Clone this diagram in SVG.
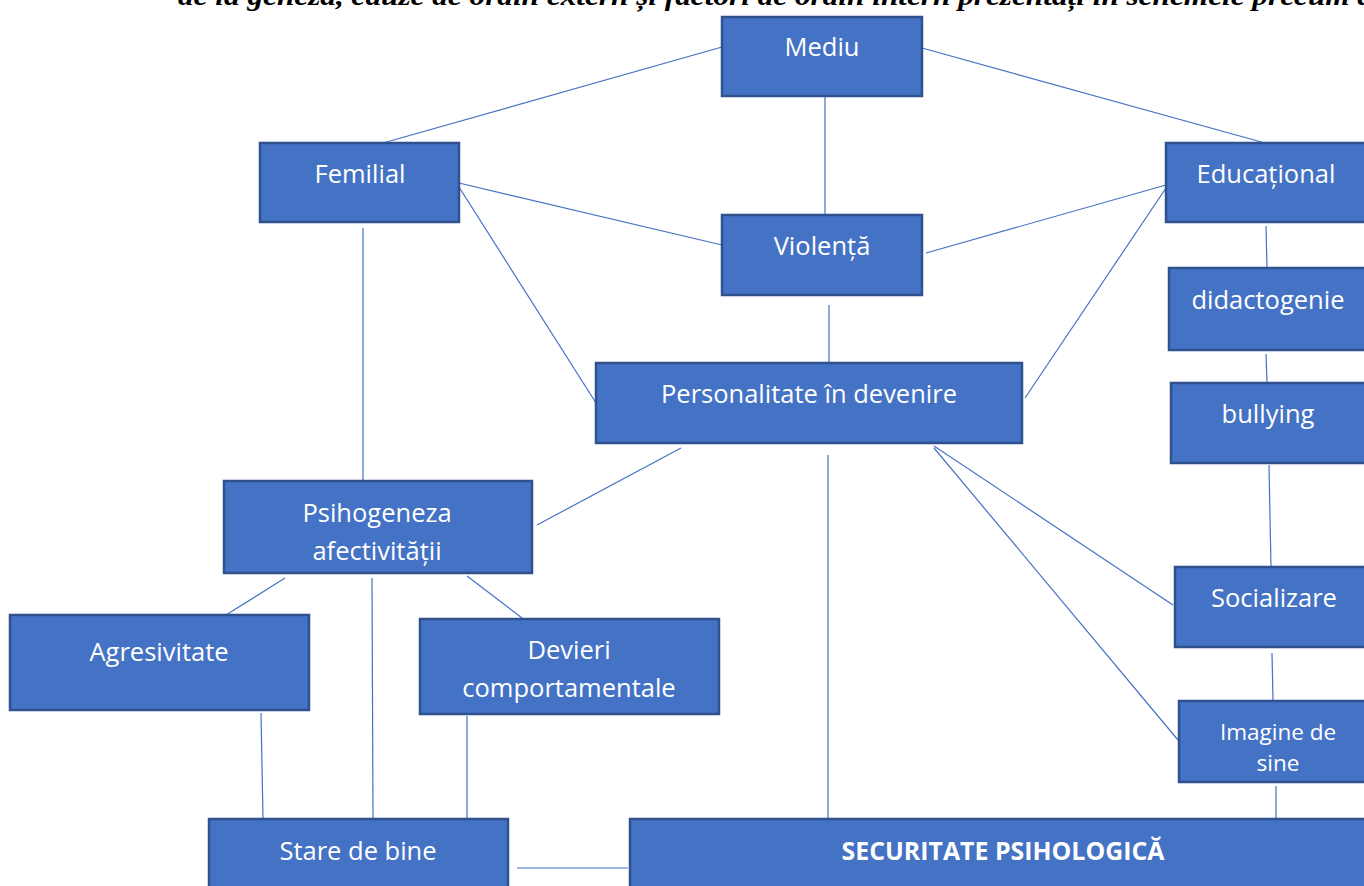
<svg xmlns="http://www.w3.org/2000/svg" width="1364" height="886" viewBox="0 0 1364 886">
<style>
.box{fill:#4472C4;stroke:#2F528F;stroke-width:2.5}
.t{fill:#fff;font-family:"Open Sans","Noto Sans",sans-serif;font-size:25.5px;text-anchor:middle}
.b{font-weight:bold}
.s{font-size:22.5px}
.ln{stroke:#4472C4;stroke-width:1.2;fill:none}
.hdr{font-family:"Liberation Serif",serif;font-style:italic;font-weight:bold;font-size:28px;fill:#000}
</style>
<rect width="1364" height="886" fill="#fff"/>
<text class="hdr" x="178" y="5" textLength="1195" lengthAdjust="spacingAndGlyphs">de la geneză, cauze de ordin extern și factori de ordin intern prezentați în schemele precum a</text>
<g id="connectors">
<line class="ln" x1="722" y1="47" x2="383" y2="143"/>
<line class="ln" x1="922" y1="48" x2="1265" y2="143"/>
<line class="ln" x1="825" y1="97" x2="825" y2="215"/>
<line class="ln" x1="459" y1="183" x2="722" y2="245"/>
<line class="ln" x1="459" y1="187" x2="596" y2="403"/>
<line class="ln" x1="1166" y1="185" x2="926" y2="253"/>
<line class="ln" x1="1166" y1="188" x2="1025" y2="398"/>
<line class="ln" x1="829" y1="305" x2="829" y2="363"/>
<line class="ln" x1="363" y1="228" x2="363" y2="481"/>
<line class="ln" x1="1266" y1="226" x2="1267" y2="268"/>
<line class="ln" x1="1266" y1="354" x2="1267" y2="383"/>
<line class="ln" x1="1269" y1="465" x2="1271" y2="567"/>
<line class="ln" x1="1272" y1="653" x2="1273" y2="701"/>
<line class="ln" x1="1276" y1="786" x2="1276" y2="819"/>
<line class="ln" x1="681" y1="448" x2="537" y2="525"/>
<line class="ln" x1="828" y1="455" x2="828" y2="819"/>
<line class="ln" x1="934" y1="446" x2="1173" y2="605"/>
<line class="ln" x1="934" y1="448" x2="1178" y2="740"/>
<line class="ln" x1="285" y1="578" x2="226" y2="615"/>
<line class="ln" x1="372" y1="578" x2="373" y2="819"/>
<line class="ln" x1="467" y1="576" x2="522" y2="618"/>
<line class="ln" x1="261" y1="713" x2="263" y2="819"/>
<line class="ln" x1="467" y1="716" x2="467" y2="819"/>
<line class="ln" x1="517" y1="868" x2="628" y2="868"/>
</g>
<g id="mediu"><rect class="box" x="722" y="17" width="200" height="79"/><text class="t" x="822" y="56">Mediu</text></g>
<g id="femilial"><rect class="box" x="260" y="143" width="199" height="79"/><text class="t" x="360" y="183">Femilial</text></g>
<g id="educational"><rect class="box" x="1166" y="143" width="200" height="79"/><text class="t" x="1266" y="183">Educațional</text></g>
<g id="violenta"><rect class="box" x="722" y="215" width="200" height="80"/><text class="t" x="822" y="255">Violență</text></g>
<g id="didactogenie"><rect class="box" x="1169" y="268" width="200" height="82"/><text class="t" x="1268" y="309">didactogenie</text></g>
<g id="bullying"><rect class="box" x="1171" y="383" width="200" height="80"/><text class="t" x="1268" y="423">bullying</text></g>
<g id="personalitate"><rect class="box" x="596" y="363" width="426" height="80"/><text class="t" x="809" y="403">Personalitate în devenire</text></g>
<g id="psihogeneza"><rect class="box" x="224" y="481" width="308" height="92"/><text class="t" x="377" y="522">Psihogeneza</text><text class="t" x="377" y="560">afectivității</text></g>
<g id="agresivitate"><rect class="box" x="10" y="615" width="299" height="95"/><text class="t" x="159" y="661">Agresivitate</text></g>
<g id="devieri"><rect class="box" x="420" y="619" width="299" height="95"/><text class="t" x="569" y="659">Devieri</text><text class="t" x="569" y="697">comportamentale</text></g>
<g id="socializare"><rect class="box" x="1175" y="567" width="200" height="80"/><text class="t" x="1274" y="607">Socializare</text></g>
<g id="imagine"><rect class="box" x="1179" y="701" width="200" height="81"/><text class="t s" x="1278" y="740">Imagine de</text><text class="t s" x="1278" y="771">sine</text></g>
<g id="stare"><rect class="box" x="209" y="819" width="299" height="80"/><text class="t" x="358" y="860">Stare de bine</text></g>
<g id="securitate"><rect class="box" x="630" y="819" width="750" height="80"/><text class="t b" x="1003" y="860" textLength="323" lengthAdjust="spacingAndGlyphs">SECURITATE PSIHOLOGICĂ</text></g>
</svg>
